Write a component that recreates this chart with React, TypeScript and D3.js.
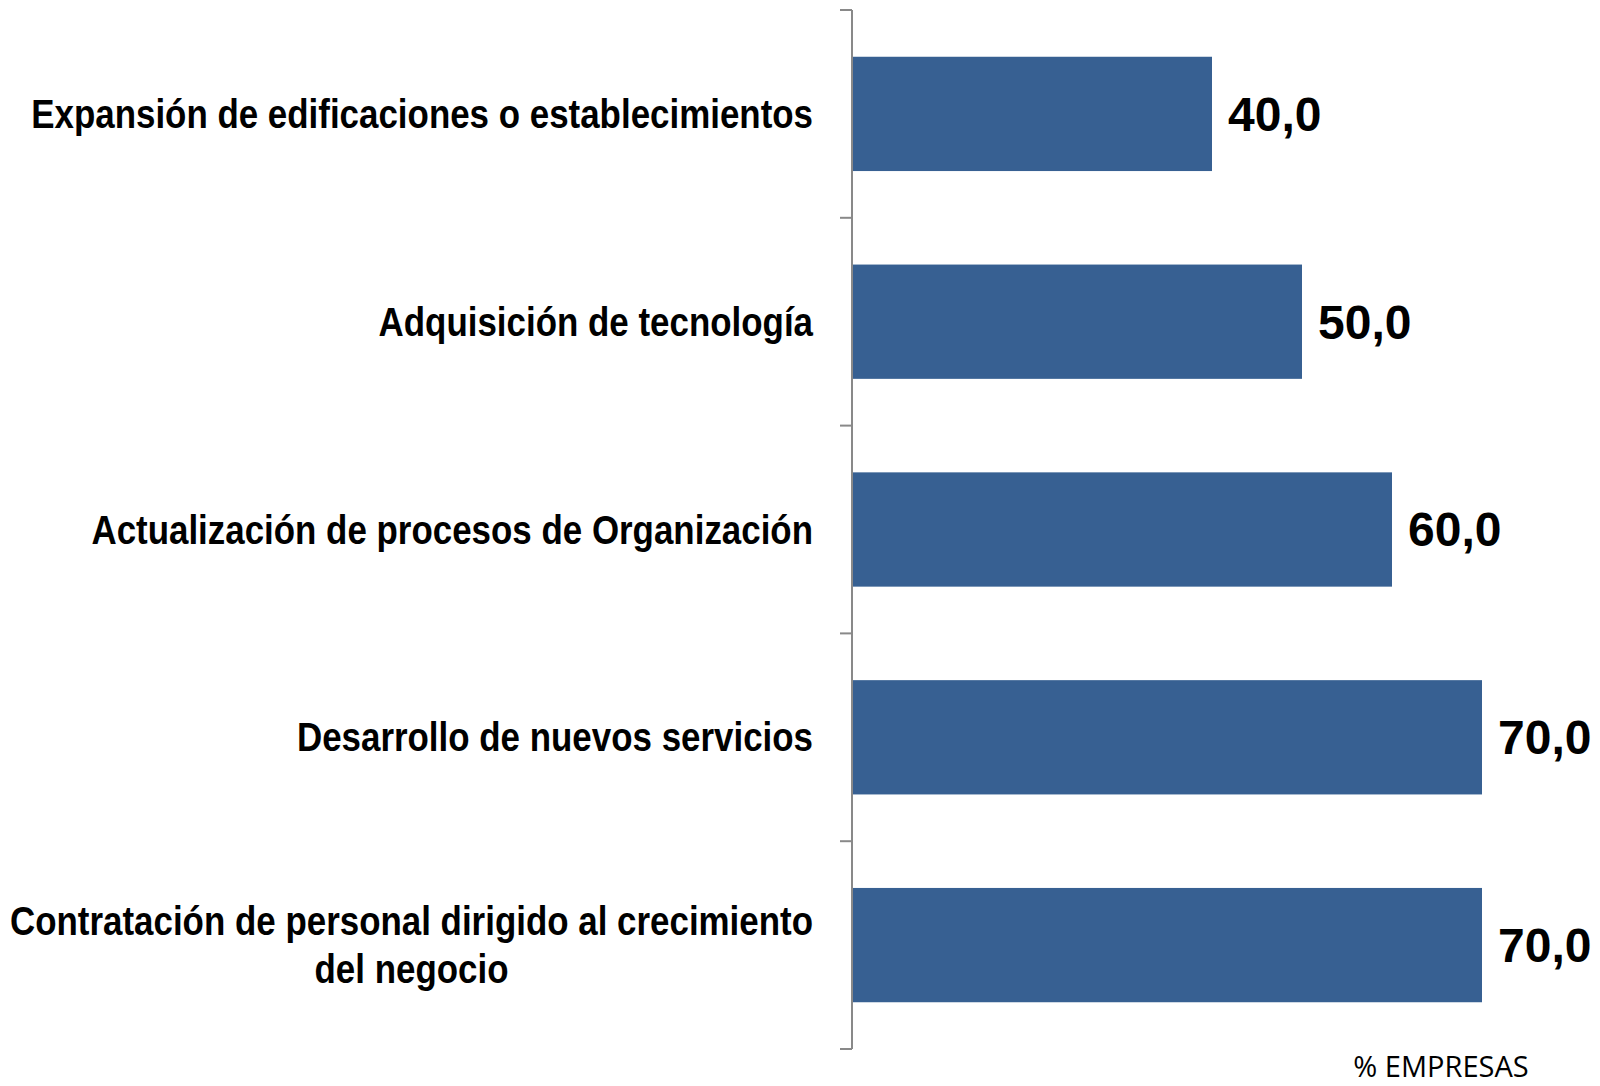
import React, { useEffect, useRef } from 'react';
import * as d3 from 'd3';

const categories = [
  'Expansión de edificaciones o establecimientos',
  'Adquisición de tecnología',
  'Actualización de procesos de Organización',
  'Desarrollo de nuevos servicios',
  'Contratación de personal dirigido al crecimiento|del negocio',
];
const values = [40, 50, 60, 70, 70];
const axisTitle = '% EMPRESAS';

const W = 1600;
const H = 1086;
const NARROW = 0.873; // estrechar el texto como Arial Narrow

const App = () => {
  const svgRef = useRef<SVGSVGElement>(null);

  useEffect(() => {
    const svg = d3.select(svgRef.current);
    svg.selectAll('*').remove();

    const x0 = 852;
    const x = d3.scaleLinear().domain([0, 70]).range([x0, 1482]);
    const y = d3
      .scaleBand<string>()
      .domain(categories)
      .range([10, 1049])
      .paddingInner(0.45)
      .paddingOuter(0.225);

    // barras
    svg
      .append('g')
      .selectAll('rect')
      .data(values)
      .join('rect')
      .attr('x', x0 + 1)
      .attr('y', (d, i) => y(categories[i])!)
      .attr('width', d => x(d) - x0 - 1)
      .attr('height', y.bandwidth())
      .attr('fill', '#376092');

    // eje vertical con marcas entre categorías
    const axis = svg.append('g').attr('stroke', '#898989').attr('stroke-width', 2);
    axis.append('line').attr('x1', x0).attr('x2', x0).attr('y1', 10).attr('y2', 1049);
    const ticks = d3.range(categories.length + 1).map(i => 10 + i * (1039 / categories.length));
    axis
      .selectAll('line.tick')
      .data(ticks)
      .join('line')
      .attr('class', 'tick')
      .attr('x1', x0 - 12)
      .attr('x2', x0)
      .attr('y1', d => d)
      .attr('y2', d => d);

    // etiquetas de categoría
    const labels = svg
      .append('g')
      .attr('font-family', '"Liberation Sans", Arial, sans-serif')
      .attr('font-weight', 'bold')
      .attr('font-size', 40)
      .attr('fill', '#000');

    categories.forEach(c => {
      const cy = y(c)! + y.bandwidth() / 2;
      const lines = c.split('|');
      if (lines.length === 1) {
        labels
          .append('text')
          .attr('transform', `translate(813,${cy}) scale(${NARROW},1)`)
          .attr('dy', '0.35em')
          .attr('text-anchor', 'end')
          .text(c);
      } else {
        const t1 = labels
          .append('text')
          .attr('transform', `translate(813,${cy - 24}) scale(${NARROW},1)`)
          .attr('dy', '0.35em')
          .attr('text-anchor', 'end')
          .text(lines[0]);
        const w = (t1.node() as SVGTextElement).getComputedTextLength() * NARROW;
        labels
          .append('text')
          .attr('transform', `translate(${813 - w / 2},${cy + 24}) scale(${NARROW},1)`)
          .attr('dy', '0.35em')
          .attr('text-anchor', 'middle')
          .text(lines[1]);
      }
    });

    // valores
    svg
      .append('g')
      .attr('font-family', '"Liberation Sans", Arial, sans-serif')
      .attr('font-weight', 'bold')
      .attr('font-size', 48)
      .selectAll('text')
      .data(values)
      .join('text')
      .attr('x', d => x(d) + 16)
      .attr('y', (d, i) => y(categories[i])! + y.bandwidth() / 2)
      .attr('dy', '0.35em')
      .text(d => d3.format('.1f')(d).replace('.', ','));

    svg
      .append('text')
      .attr('x', 1441)
      .attr('y', 1077)
      .attr('text-anchor', 'middle')
      .attr('font-family', '"Open Sans", sans-serif')
      .attr('font-size', 29)
      .text(axisTitle);
  }, []);

  return (
    <svg
      ref={svgRef}
      width={W}
      height={H}
      style={{ position: 'absolute', left: 0, top: 0, background: '#fff' }}
    />
  );
};

export default App;
